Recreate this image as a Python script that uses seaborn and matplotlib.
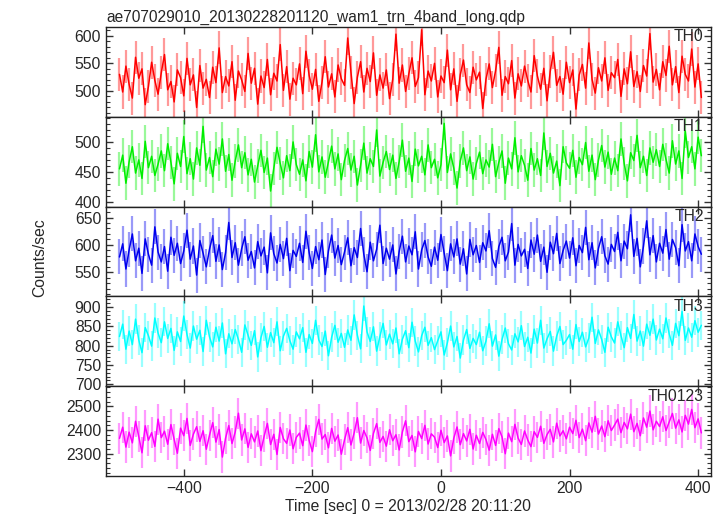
import numpy as np
import matplotlib
matplotlib.use("Agg")
import matplotlib.pyplot as plt
import seaborn as sns
from matplotlib.ticker import MultipleLocator

# time bins (sec from 2013/02/28 20:11:20)
t_start = -500
t_step = 5

th0 = [530, 498, 545, 512, 487, 561, 523, 540, 475, 508, 552, 519, 494, 533,
       566, 502, 517, 480, 538, 524, 491, 559, 511, 529, 470, 546, 505, 521,
       488, 543, 515, 578, 497, 526, 509, 553, 483, 536, 520, 499, 568, 514,
       541, 476, 527, 506, 557, 493, 532, 518, 584, 501, 544, 485, 523, 511,
       549, 495, 572, 528, 503, 539, 481, 516, 562, 507, 531, 489, 547, 522,
       510, 596, 534, 477, 525, 553, 498, 541, 517, 569, 492, 529, 505, 538,
       486, 521, 603, 514, 547, 499, 531, 560, 508, 524, 611, 493, 536, 518,
       550, 489, 527, 515, 574, 502, 540, 481, 529, 556, 511, 497, 543, 520,
       534, 468, 521, 549, 506, 537, 579, 492, 526, 513, 555, 487, 531, 509,
       545, 519, 498, 564, 527, 503, 541, 482, 536, 570, 510, 526, 494, 552,
       515, 538, 467, 529, 548, 505, 587, 521, 496, 542, 518, 560, 501, 533,
       524, 557, 490, 540, 513, 571, 508, 535, 499, 546, 527, 604, 516, 539,
       502, 553, 528, 581, 511, 544, 497, 563, 530, 518, 576, 507, 549, 488]

th1 = [455, 478, 431, 467, 492, 448, 470, 439, 501, 457, 476, 444, 463, 485,
       452, 497, 466, 430, 481, 459, 509, 447, 472, 438, 490, 461, 526, 453,
       474, 442, 488, 463, 505, 451, 479, 436, 468, 495, 457, 482, 445, 471,
       433, 460, 486, 449, 473, 418, 456, 491, 464, 440, 477, 452, 500, 462,
       446, 470, 435, 484, 458, 512, 450, 475, 441, 467, 493, 455, 480, 437,
       469, 489, 453, 476, 428, 461, 498, 448, 472, 459, 520, 443, 466, 484,
       454, 478, 439, 467, 503, 451, 473, 434, 488, 460, 476, 445, 495, 457,
       471, 440, 462, 531, 449, 480, 456, 423, 468, 490, 452, 475, 438, 464,
       483, 447, 470, 458, 496, 442, 466, 485, 431, 473, 455, 507, 450, 477,
       461, 436, 489, 453, 472, 444, 515, 459, 481, 448, 468, 427, 492, 465,
       456, 486, 441, 474, 462, 499, 451, 478, 437, 470, 494, 458, 483, 446,
       473, 452, 505, 464, 435, 482, 469, 511, 457, 476, 444, 490, 466, 487,
       459, 496, 471, 448, 502, 463, 485, 439, 518, 474, 492, 455, 508, 477]

th2 = [578, 602, 556, 591, 620, 571, 594, 548, 611, 583, 563, 633, 587, 569,
       597, 552, 614, 581, 603, 566, 589, 627, 574, 598, 545, 608, 585, 560,
       592, 617, 570, 600, 555, 586, 641, 577, 604, 563, 593, 615, 572, 588,
       558, 606, 580, 596, 549, 622, 584, 567, 601, 575, 612, 553, 590, 579,
       603, 568, 625, 586, 557, 597, 573, 609, 546, 589, 618, 576, 599, 564,
       587, 613, 562, 595, 577, 630, 583, 551, 605, 571, 592, 636, 566, 594,
       574, 600, 547, 588, 616, 569, 598, 582, 624, 556, 591, 608, 578, 561,
       596, 572, 619, 585, 553, 602, 578, 611, 565, 593, 547, 610, 582, 599,
       568, 604, 589, 626, 575, 559, 597, 614, 571, 587, 639, 563, 601, 580,
       592, 557, 609, 583, 618, 570, 596, 550, 605, 584, 621, 566, 590, 607,
       576, 613, 562, 599, 586, 632, 573, 604, 558, 594, 615, 580, 565, 601,
       588, 623, 571, 607, 593, 655, 579, 612, 560, 598, 644, 582, 617, 569,
       603, 585, 628, 574, 610, 595, 562, 637, 589, 606, 571, 620, 597, 583]

th3 = [824, 856, 791, 838, 803, 869, 815, 782, 847, 826, 799, 872, 833, 808,
       862, 819, 845, 788, 836, 811, 877, 829, 794, 851, 817, 840, 785, 866,
       823, 797, 848, 812, 859, 779, 831, 805, 842, 816, 783, 854, 827, 801,
       839, 771, 821, 850, 796, 834, 808, 862, 787, 825, 845, 813, 791, 836,
       818, 847, 783, 829, 806, 866, 815, 798, 838, 774, 822, 853, 809, 832,
       796, 841, 814, 880, 827, 792, 903, 836, 811, 849, 786, 824, 858, 802,
       830, 805, 846, 779, 817, 839, 795, 861, 812, 784, 826, 848, 801, 821,
       790, 813, 836, 776, 808, 851, 797, 824, 768, 815, 842, 793, 819, 803,
       835, 787, 812, 857, 799, 828, 773, 816, 846, 805, 789, 831, 810, 852,
       798, 822, 781, 843, 807, 866, 794, 818, 837, 786, 825, 850, 803, 814,
       829, 791, 855, 811, 835, 797, 820, 874, 806, 841, 816, 783, 848, 823,
       807, 862, 826, 795, 847, 819, 881, 812, 838, 799, 856, 827, 869, 815,
       843, 818, 872, 831, 801, 858, 826, 889, 814, 846, 822, 865, 835, 853]

th0123 = [2365, 2412, 2328, 2391, 2346, 2437, 2372, 2304, 2418, 2357, 2389, 2331, 2446, 2368,
          2395, 2340, 2423, 2361, 2302, 2408, 2376, 2449, 2335, 2383, 2414, 2352, 2397, 2319,
          2378, 2431, 2349, 2402, 2286, 2366, 2419, 2343, 2392, 2471, 2358, 2405, 2327, 2384,
          2350, 2396, 2313, 2374, 2428, 2339, 2382, 2297, 2411, 2363, 2344, 2400, 2321, 2369,
          2387, 2334, 2421, 2356, 2309, 2393, 2445, 2362, 2381, 2325, 2407, 2353, 2379, 2298,
          2359, 2410, 2337, 2388, 2452, 2345, 2398, 2367, 2314, 2386, 2427, 2348, 2373, 2332,
          2401, 2355, 2380, 2316, 2392, 2439, 2351, 2377, 2308, 2394, 2364, 2420, 2341, 2384,
          2370, 2326, 2399, 2347, 2375, 2291, 2366, 2413, 2338, 2385, 2354, 2403, 2320, 2378,
          2343, 2390, 2360, 2315, 2382, 2335, 2406, 2371, 2300, 2387, 2351, 2424, 2366, 2339,
          2396, 2358, 2330, 2393, 2369, 2416, 2344, 2381, 2403, 2350, 2429, 2375, 2397, 2363,
          2412, 2385, 2441, 2368, 2404, 2355, 2430, 2391, 2458, 2383, 2417, 2372, 2439, 2398,
          2421, 2446, 2389, 2432, 2405, 2467, 2393, 2428, 2376, 2451, 2412, 2480, 2401, 2437,
          2415, 2456, 2398, 2434, 2470, 2408, 2443, 2392, 2462, 2425, 2487, 2410, 2447, 2388]

bands = ["TH0", "TH1", "TH2", "TH3", "TH0123"]
rates = [th0, th1, th2, th3, th0123]
errors = [30, 28, 32, 38, 66]          # 1-sigma error per bin
colors = ["#ff0000", "#00ee00", "#0000ee", "#00ffff", "#ff00ff"]
ylims = [(453, 616), (392, 542), (506, 670), (695, 928), (2206, 2585)]
ymajor = [50, 50, 50, 50, 100]
yminor = [10, 10, 10, 10, 20]

title = "ae707029010_20130228201120_wam1_trn_4band_long.qdp"

sns.set_style("ticks")
plt.rcParams["font.family"] = ["Liberation Sans", "DejaVu Sans"]
plt.rcParams["font.size"] = 11

fig, axes = plt.subplots(5, 1, sharex=True, figsize=(7.23, 5.16), dpi=100,
                         gridspec_kw={"hspace": 0})
fig.subplots_adjust(left=0.1466, right=0.9834, top=0.9477, bottom=0.0775)

for ax, name, y, err, col, yl, ma, mi in zip(axes, bands, rates, errors, colors,
                                             ylims, ymajor, yminor):
    t = t_start + t_step * np.arange(len(y))
    y = np.asarray(y)
    ax.vlines(t, y - err, y + err, color=col, alpha=0.4, lw=1.6)
    sns.lineplot(x=t, y=y, ax=ax, color=col, lw=1.1)
    ax.set_ylim(*yl)
    ax.yaxis.set_major_locator(MultipleLocator(ma))
    ax.yaxis.set_minor_locator(MultipleLocator(mi))
    ax.tick_params(which="both", direction="in", top=True, right=True,
                   labelsize=11.3, color="#333333")
    ax.tick_params(which="major", length=5, width=1)
    ax.tick_params(which="minor", length=3, width=0.8, axis="y")
    for s in ax.spines.values():
        s.set_color("#222222")
        s.set_linewidth(1.0)
    ax.text(0.988, 0.89, name, transform=ax.transAxes, ha="right", va="center",
            fontsize=11.3)
    ax.set_ylabel("")

axes[-1].set_xlim(-521, 420)
axes[-1].xaxis.set_major_locator(MultipleLocator(200))
axes[-1].set_xlabel("Time [sec] 0 = 2013/02/28 20:11:20", fontsize=11.3, labelpad=2)
fig.text(0.055, 0.5, "Counts/sec", rotation=90, ha="center", va="center",
         fontsize=11.3)
axes[0].set_title(title, loc="left", fontsize=11.2, pad=4)

fig.savefig("out.png", dpi=100)
